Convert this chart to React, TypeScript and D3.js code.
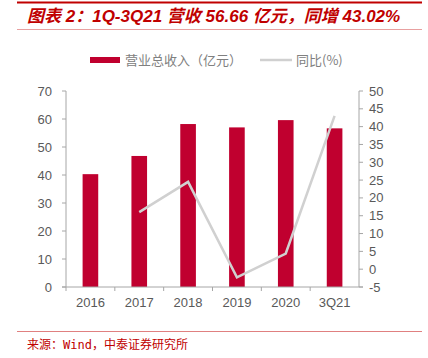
import React from "react";
import * as d3 from "d3";

const categories = ["2016", "2017", "2018", "2019", "2020", "3Q21"];
const revenue = [40.3, 46.8, 58.2, 57.0, 59.6, 56.66];
const yoy: (number | null)[] = [null, 16.0, 24.5, -2.3, 4.4, 43.02];
const leftTicks = [0, 10, 20, 30, 40, 50, 60, 70];
const rightTicks = [-5, 0, 5, 10, 15, 20, 25, 30, 35, 40, 45, 50];

const W = 428, H = 358;
const plotL = 66, plotR = 359, plotT = 91, plotB = 287;
const red = "#c00000";
const barColor = "#c0002f";
const axisColor = "#a6a6a6";
const textColor = "#595959";
const font = "'Liberation Sans', Arial, sans-serif";

export default function App() {
  const x = d3.scaleBand().domain(categories).range([plotL, plotR]).paddingInner(0).paddingOuter(0);
  const yL = d3.scaleLinear().domain([0, 70]).range([plotB, plotT]);
  const yR = d3.scaleLinear().domain([-5, 50]).range([plotB, plotT]);
  const bw = x.bandwidth() * 0.32;
  const lineGen = d3
    .line<number | null>()
    .defined((d) => d !== null)
    .x((_, i) => (x(categories[i]) as number) + x.bandwidth() / 2)
    .y((d) => yR(d as number));

  return (
    <svg width={W} height={H} style={{ position: "absolute", left: 0, top: 0 }}>
      <rect width={W} height={H} fill="#fff" />
      <line x1={17} x2={422} y1={2.5} y2={2.5} stroke={red} strokeWidth={2} />
      <text x={27} y={22} fill={red} fontFamily="'Liberation Sans', 'Noto Sans CJK SC', sans-serif" fontSize={17} fontWeight="bold" fontStyle="italic">
        图表 2：1Q-3Q21 营收 56.66 亿元，同增 43.02%
      </text>
      <line x1={17} x2={422} y1={29.5} y2={29.5} stroke="#e8a0a0" strokeWidth={1} />

      {/* legend */}
      <rect x={90} y={57} width={30} height={6} fill={barColor} />
      <text x={125} y={64.5} fill="#808080" fontSize={13} fontFamily="'Noto Sans CJK SC', sans-serif">营业总收入（亿元）</text>
      <line x1={260} x2={292} y1={60} y2={60} stroke="#d0d0d0" strokeWidth={2.5} />
      <text x={296} y={64.5} fill="#808080" fontSize={13} fontFamily="'Noto Sans CJK SC', sans-serif">同比(%)</text>

      {/* bars */}
      {revenue.map((v, i) => (
        <rect key={i} x={(x(categories[i]) as number) + x.bandwidth() / 2 - bw / 2} y={yL(v)} width={bw} height={plotB - yL(v)} fill={barColor} />
      ))}

      {/* line */}
      <path d={lineGen(yoy) || ""} fill="none" stroke="#d0d0d0" strokeWidth={2.5} />

      {/* left axis */}
      <line x1={plotL} x2={plotL} y1={plotT} y2={plotB} stroke={axisColor} />
      {leftTicks.map((t) => (
        <g key={t}>
          <line x1={plotL - 4} x2={plotL} y1={yL(t)} y2={yL(t)} stroke={axisColor} />
          <text x={plotL - 14} y={yL(t) + 4.5} textAnchor="end" fill={textColor} fontSize={13} fontFamily={font}>{t}</text>
        </g>
      ))}

      {/* right axis */}
      <line x1={plotR} x2={plotR} y1={plotT} y2={plotB} stroke={axisColor} />
      {rightTicks.map((t) => (
        <g key={t}>
          <line x1={plotR} x2={plotR + 4} y1={yR(t)} y2={yR(t)} stroke={axisColor} />
          <text x={plotR + 10} y={yR(t) + 4.5} textAnchor="start" fill={textColor} fontSize={13} fontFamily={font}>{t}</text>
        </g>
      ))}

      {/* x axis */}
      <line x1={plotL - 4} x2={plotR + 4} y1={plotB} y2={plotB} stroke={axisColor} />
      {categories.map((c, i) => (
        <g key={c}>
          <line x1={x(c) as number} x2={x(c) as number} y1={plotB} y2={plotB + 4} stroke={axisColor} />
          <text x={(x(c) as number) + x.bandwidth() / 2} y={307} textAnchor="middle" fill={textColor} fontSize={13} fontFamily={font}>{c}</text>
        </g>
      ))}

      <line x1={17} x2={422} y1={331.5} y2={331.5} stroke="#e08080" strokeWidth={1} />
      <text x={27} y={349} fill={red} fontSize={12} fontFamily="'DejaVu Sans Mono', 'Noto Sans CJK SC', monospace">来源：Wind，中泰证券研究所</text>
    </svg>
  );
}
